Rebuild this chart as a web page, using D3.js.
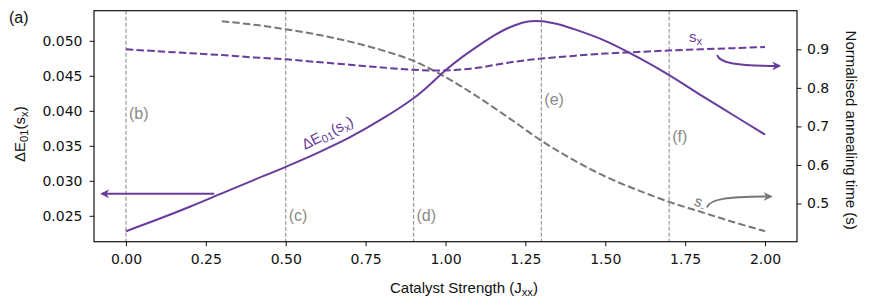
<!DOCTYPE html>
<html lang="en">
<head>
  <meta charset="UTF-8">
  <script src="https://d3js.org/d3.v7.min.js"></script>
  <style>
    html, body { margin: 0; padding: 0; background: white; }
    svg { display: block; }
    .tick text { font-family: "DejaVu Sans", sans-serif; font-size: 14px; fill: #111; }
    .lbl { font-family: "Liberation Sans", Arial, sans-serif; }
  </style>
</head>
<body>
  <svg id="chart" width="871" height="306"></svg>
  <script>
    // catalyst strength (x) for each series
    const xDelta = [0, 0.1, 0.2, 0.3, 0.4, 0.5, 0.6, 0.7, 0.8, 0.9, 0.95, 1.0, 1.05, 1.1, 1.15, 1.2, 1.25, 1.3, 1.35, 1.4, 1.5, 1.6, 1.7, 1.8, 1.9, 2.0];
    const deltaE = [0.0228, 0.0245, 0.0263, 0.0282, 0.0301, 0.0320, 0.0340, 0.0362, 0.0388, 0.0418, 0.0437, 0.0458, 0.0476, 0.0492, 0.0507, 0.0519, 0.0527, 0.0528, 0.0524, 0.0517, 0.0500, 0.0477, 0.0451, 0.0422, 0.0394, 0.0366];

    const xSx = [0, 0.1, 0.2, 0.3, 0.4, 0.5, 0.6, 0.7, 0.8, 0.9, 1.0, 1.1, 1.2, 1.3, 1.4, 1.5, 1.6, 1.7, 1.8, 1.9, 2.0];
    const sxTime = [0.900, 0.895, 0.890, 0.885, 0.879, 0.874, 0.867, 0.860, 0.853, 0.847, 0.845, 0.852, 0.866, 0.876, 0.883, 0.889, 0.893, 0.897, 0.900, 0.903, 0.906];

    const xSm = [0.3, 0.4, 0.5, 0.6, 0.7, 0.8, 0.9, 1.0, 1.1, 1.2, 1.3, 1.4, 1.5, 1.6, 1.7, 1.8, 1.9, 2.0];
    const smTime = [0.973, 0.964, 0.952, 0.938, 0.920, 0.898, 0.870, 0.828, 0.777, 0.721, 0.663, 0.613, 0.570, 0.535, 0.504, 0.478, 0.452, 0.428];

    // marked regimes
    const markX = [0, 0.5, 0.9, 1.3, 1.7];
    const markLabels = ["(b)", "(c)", "(d)", "(e)", "(f)"];
    const markLabelY = [0.0397, 0.0250, 0.0250, 0.0416, 0.0364];

    const xTicks = [0, 0.25, 0.5, 0.75, 1.0, 1.25, 1.5, 1.75, 2.0];
    const leftTicks = [0.025, 0.030, 0.035, 0.040, 0.045, 0.050];
    const rightTicks = [0.5, 0.6, 0.7, 0.8, 0.9];

    const purple = "#683c9c";
    const grey = "#777777";

    const svg = d3.select("#chart");
    const margin = { top: 10.7, right: 74, bottom: 64.3, left: 94 };
    const W = +svg.attr("width"), H = +svg.attr("height");

    function padded(ext) {
      const p = (ext[1] - ext[0]) * 0.05;
      return [ext[0] - p, ext[1] + p];
    }

    const x = d3.scaleLinear().domain(padded([0, 2])).range([margin.left, W - margin.right]);
    const yL = d3.scaleLinear().domain(padded(d3.extent(deltaE))).range([H - margin.bottom, margin.top]);
    const yR = d3.scaleLinear().domain(padded(d3.extent(sxTime.concat(smTime)))).range([H - margin.bottom, margin.top]);

    // vertical regime lines
    svg.append("g").selectAll("line").data(markX).join("line")
      .attr("x1", d => x(d)).attr("x2", d => x(d))
      .attr("y1", margin.top).attr("y2", H - margin.bottom)
      .attr("stroke", "#999").attr("stroke-width", 1.2)
      .attr("stroke-dasharray", "4,2");

    svg.append("g").selectAll("text").data(markX).join("text")
      .attr("class", "lbl")
      .attr("x", d => x(d) + 3)
      .attr("y", (d, i) => yL(markLabelY[i]))
      .attr("dy", "0.35em")
      .attr("font-size", 16)
      .attr("fill", "#8a8a8a")
      .text((d, i) => markLabels[i]);

    // lines
    const lineL = d3.line().x(d => x(d[0])).y(d => yL(d[1])).curve(d3.curveCatmullRom.alpha(0.5));
    const lineR = d3.line().x(d => x(d[0])).y(d => yR(d[1])).curve(d3.curveCatmullRom.alpha(0.5));

    svg.append("path").datum(d3.zip(xSm, smTime))
      .attr("d", lineR).attr("fill", "none")
      .attr("stroke", grey).attr("stroke-width", 2)
      .attr("stroke-dasharray", "7.4,3.2");

    svg.append("path").datum(d3.zip(xSx, sxTime))
      .attr("d", lineR).attr("fill", "none")
      .attr("stroke", purple).attr("stroke-width", 2)
      .attr("stroke-dasharray", "7.4,3.2");

    svg.append("path").datum(d3.zip(xDelta, deltaE))
      .attr("d", lineL).attr("fill", "none")
      .attr("stroke", purple).attr("stroke-width", 2);

    // axes
    const axB = svg.append("g").attr("transform", `translate(0,${H - margin.bottom})`)
      .call(d3.axisBottom(x).tickValues(xTicks).tickFormat(d3.format(".2f")).tickSizeOuter(0).tickSize(4.5).tickPadding(8));
    const axL = svg.append("g").attr("transform", `translate(${margin.left},0)`)
      .call(d3.axisLeft(yL).tickValues(leftTicks).tickFormat(d3.format(".3f")).tickSizeOuter(0).tickSize(4.5).tickPadding(7));
    const axR = svg.append("g").attr("transform", `translate(${W - margin.right},0)`)
      .call(d3.axisRight(yR).tickValues(rightTicks).tickFormat(d3.format(".1f")).tickSizeOuter(0).tickSize(4.5).tickPadding(5.5));
    [axB, axL, axR].forEach(a => { a.select(".domain").remove(); a.selectAll(".tick line").attr("stroke", "#111"); });

    svg.append("rect")
      .attr("x", margin.left).attr("y", margin.top)
      .attr("width", W - margin.left - margin.right)
      .attr("height", H - margin.top - margin.bottom)
      .attr("fill", "none").attr("stroke", "#111").attr("stroke-width", 1.2);

    // text with subscripts: parts = [[string, isSub], ...]
    function rich(sel, parts, fs) {
      let down = false;
      parts.forEach(([s, sub]) => {
        const t = sel.append("tspan").text(s).attr("font-size", sub ? fs * 0.75 : fs);
        if (sub && !down) { t.attr("dy", fs * 0.2); down = true; }
        else if (!sub && down) { t.attr("dy", -fs * 0.2); down = false; }
      });
      return sel;
    }

    // axis titles
    rich(svg.append("text").attr("class", "lbl")
      .attr("transform", `translate(464,${H - 13})`)
      .attr("text-anchor", "middle").attr("fill", "#111"),
      [["Catalyst Strength (J", false], ["xx", true], [")", false]], 15);

    rich(svg.append("text").attr("class", "lbl")
      .attr("transform", `translate(25,${(margin.top + H - margin.bottom) / 2 + 8}) rotate(-90)`)
      .attr("text-anchor", "middle").attr("fill", "#111"),
      [["ΔE", false], ["01", true], ["(s", false], ["x", true], [")", false]], 15);

    svg.append("text").attr("class", "lbl")
      .attr("transform", `translate(846,${(margin.top + H - margin.bottom) / 2 + 4}) rotate(90)`)
      .attr("text-anchor", "middle").attr("fill", "#111").attr("font-size", 15)
      .text("Normalised annealing time (s)");

    svg.append("text").attr("class", "lbl")
      .attr("x", 9).attr("y", 23).attr("font-size", 16).attr("fill", "#111")
      .text("(a)");

    // annotations (in data coordinates)
    const defs = svg.append("defs");
    [["headP", purple], ["headG", grey]].forEach(([id, c]) => {
      defs.append("marker").attr("id", id)
        .attr("viewBox", "0 0 10 10").attr("refX", 8).attr("refY", 5)
        .attr("markerWidth", 9).attr("markerHeight", 9)
        .attr("markerUnits", "userSpaceOnUse")
        .attr("orient", "auto")
        .append("path").attr("d", "M0,0 L10,5 L0,10 L3,5 Z").attr("fill", c);
    });

    // arrow towards left axis
    const leftArrow = [[0.276, 0.02814], [-0.075, 0.02814]];
    svg.append("line")
      .attr("x1", x(leftArrow[0][0])).attr("y1", yL(leftArrow[0][1]))
      .attr("x2", x(leftArrow[1][0])).attr("y2", yL(leftArrow[1][1]))
      .attr("stroke", purple).attr("stroke-width", 2)
      .attr("marker-end", "url(#headP)");

    // ΔE01(sx) label along the curve
    const dLab = [0.56, 0.0344];
    rich(svg.append("text").attr("class", "lbl")
      .attr("transform", `translate(${x(dLab[0])},${yL(dLab[1])}) rotate(-27)`)
      .attr("fill", purple),
      [["ΔE", false], ["01", true], ["(s", false], ["x", true], [")", false]], 15);

    // sx label and arrow to right axis
    const sxLab = [1.762, 0.918];
    rich(svg.append("text").attr("class", "lbl")
      .attr("x", x(sxLab[0])).attr("y", yR(sxLab[1])).attr("fill", purple),
      [["s", false], ["x", true]], 15);

    function curvedArrow(p0, p3, c, head, yS) {
      const a = [x(p0[0]), yS(p0[1])], b = [x(p3[0]), yS(p3[1])];
      const c1 = [a[0] + 3, a[1] + (b[1] - a[1]) * 0.75];
      const c2 = [a[0] + (b[0] - a[0]) * 0.3, b[1]];
      svg.append("path")
        .attr("d", `M${a} C${c1} ${c2} ${b}`)
        .attr("fill", "none").attr("stroke", c).attr("stroke-width", 2)
        .attr("marker-end", `url(#${head})`);
    }
    curvedArrow([1.85, 0.885], [2.045, 0.857], purple, "headP", yR);

    // s- label and arrow
    const smLab = [1.775, 0.496];
    rich(svg.append("text").attr("class", "lbl")
      .attr("transform", `translate(${x(smLab[0])},${yR(smLab[1])}) rotate(20)`)
      .attr("fill", grey),
      [["s", false], ["-", true]], 15);
    curvedArrow([1.818, 0.49], [2.018, 0.518], grey, "headG", yR);
  </script>
</body>
</html>
